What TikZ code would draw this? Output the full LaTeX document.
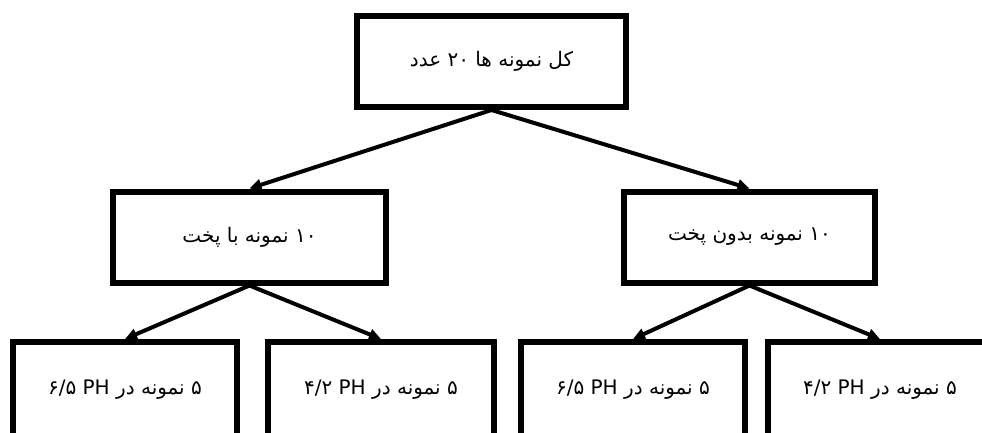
\documentclass[tikz,border=0pt]{standalone}
\usepackage{fontspec}
\usetikzlibrary{arrows.meta}
\TeXXeTstate=1
\newfontfamily\farsifont[Script=Arabic]{DejaVu Sans}

\begin{document}
\begin{tikzpicture}[x=1pt,y=-1pt,->,>={Triangle[length=12pt,width=11pt]},
                    line width=4pt]
\tikzstyle{every node}=[font=\farsifont\fontsize{20}{24}\selectfont]
  	\tikzstyle{box}=[draw,line width=6pt,minimum height=91pt,inner sep=0pt]
\useasboundingbox (0,0) rectangle (982,432);
\node [box,minimum width=269pt] (all) at (491.5,61.5) {\beginR کل نمونه ها ۲۰ عدد\endR};
\node [box,minimum width=273pt] (cooked) at (249.5,237) {\beginR ۱۰ نمونه با پخت\endR};
\node [box,minimum width=251pt] (raw) at (749.5,237) {\beginR ۱۰ نمونه بدون پخت\endR};
\node [box,minimum width=224pt,minimum height=96pt] (cookedA) at (125,390) {\beginR ۵ نمونه در PH ۶/۵\endR};
\node [box,minimum width=226pt,minimum height=96pt] (cookedB) at (381,390) {\beginR ۵ نمونه در PH ۴/۲\endR};
\node [box,minimum width=224pt,minimum height=96pt] (rawA) at (633,390) {\beginR ۵ نمونه در PH ۶/۵\endR};
\node [box,minimum width=224pt,minimum height=96pt] (rawB) at (880,390) {\beginR ۵ نمونه در PH ۴/۲\endR};

\path
	   (all.south) edge (cooked.north)
	   (all.south) edge (raw.north)
	   (cooked.south) edge (cookedA.north)
	   (cooked.south) edge (cookedB.north)
	   (raw.south) edge (rawA.north)
      (raw.south) edge (rawB.north);

	\end{tikzpicture}
\end{document}
